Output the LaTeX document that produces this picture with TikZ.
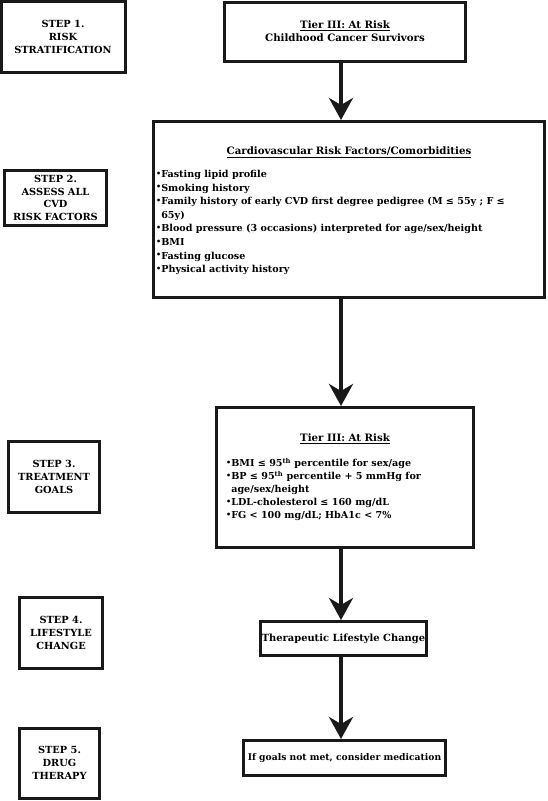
\documentclass[tikz,border=0pt]{standalone}
\usepackage{fontspec}
\setmainfont{DejaVu Serif}
\usetikzlibrary{arrows.meta, positioning}

\newcommand{\bul}{\raisebox{0.25ex}{\fontsize{8}{8}\selectfont\textbullet}}

\begin{document}
\begin{tikzpicture}[
    x=1pt, y=-1pt,
    stepbox/.style={rectangle, draw=black!90, line width=3pt, fill=white, align=center, inner sep=0pt, font=\bfseries\fontsize{9.8}{12.8}\selectfont},
    tierbox/.style={rectangle, draw=black!90, line width=3pt, fill=white, align=center, inner sep=0pt, font=\bfseries\fontsize{10.2}{13.3}\selectfont},
    listtext/.style={align=left, inner sep=0pt, anchor=north west, font=\bfseries\fontsize{9.6}{13.6}\selectfont},
    arrow/.style={-{Stealth[length=22pt, width=24pt, inset=7pt]}, line width=4pt, draw=black!90}
]
\useasboundingbox (0,0) rectangle (547,801);

% left column: steps
\node[stepbox, minimum width=124pt, minimum height=71pt] (step_one) at (63,37) {STEP 1.\\RISK\\STRATIFICATION};
\node[stepbox, minimum width=102pt, minimum height=55pt, font=\bfseries\fontsize{9.8}{12.4}\selectfont] (step_two) at (55.5,198) {STEP 2.\\ASSESS ALL\\CVD\\RISK FACTORS};
\node[stepbox, minimum width=91pt, minimum height=71pt] (step_three) at (54,477) {STEP 3.\\TREATMENT\\GOALS};
\node[stepbox, minimum width=83pt, minimum height=71pt] (step_four) at (61,633) {STEP 4.\\LIFESTYLE\\CHANGE};
\node[stepbox, minimum width=80pt, minimum height=70pt] (step_five) at (59.5,763) {STEP 5.\\DRUG\\THERAPY};

% right column: flow
\node[tierbox, minimum width=241pt, minimum height=59pt] (tier_top) at (345,31.5) {\underline{Tier III: At Risk}\\Childhood Cancer Survivors};
\node[tierbox, minimum width=391pt, minimum height=176pt] (risk_factors) at (349,209.5) {};
\node[tierbox, minimum width=257pt, minimum height=140pt] (tier_goals) at (345,477.5) {};
\node[tierbox, minimum width=166pt, minimum height=34pt, font=\bfseries\fontsize{9.9}{12}\selectfont] (lifestyle) at (343.5,638.5) {Therapeutic Lifestyle Change};
\node[tierbox, minimum width=202pt, minimum height=35pt, font=\bfseries\fontsize{9.2}{12}\selectfont] (medication) at (344.5,758) {If goals not met, consider medication};

% box contents
\node[font=\bfseries\fontsize{10.2}{13}\selectfont, inner sep=0pt] (rf_title) at (349,152) {\underline{Cardiovascular Risk Factors/Comorbidities}};
\node[listtext] (rf_list) at (156,170) {\bul Fasting lipid profile\\
    \bul Smoking history\\
    \bul Family history of early CVD first degree pedigree (M ≤ 55y ; F ≤\\
    \phantom{\bul}65y)\\
    \bul Blood pressure (3 occasions) interpreted for age/sex/height\\
    \bul BMI\\
    \bul Fasting glucose\\
    \bul Physical activity history};

\node[font=\bfseries\fontsize{10.2}{13}\selectfont, inner sep=0pt] (goals_title) at (345,439) {\underline{Tier III: At Risk}};
\node[listtext, font=\bfseries\fontsize{9.6}{13}\selectfont] (goals_list) at (226,458) {\bul BMI ≤ 95\textsuperscript{th} percentile for sex/age\\
    \bul BP ≤ 95\textsuperscript{th} percentile + 5 mmHg for\\
    \phantom{\bul}age/sex/height\\
    \bul LDL-cholesterol ≤ 160 mg/dL\\
    \bul FG < 100 mg/dL; HbA1c < 7\%};

% connectors
\coordinate (spine) at (341,0);
\draw[arrow] (tier_top.south -| spine) -- (risk_factors.north -| spine);
\draw[arrow] (risk_factors.south -| spine) -- (tier_goals.north -| spine);
\draw[arrow] (tier_goals.south -| spine) -- (lifestyle.north -| spine);
\draw[arrow] (lifestyle.south -| spine) -- (medication.north -| spine);

\end{tikzpicture}
\end{document}
